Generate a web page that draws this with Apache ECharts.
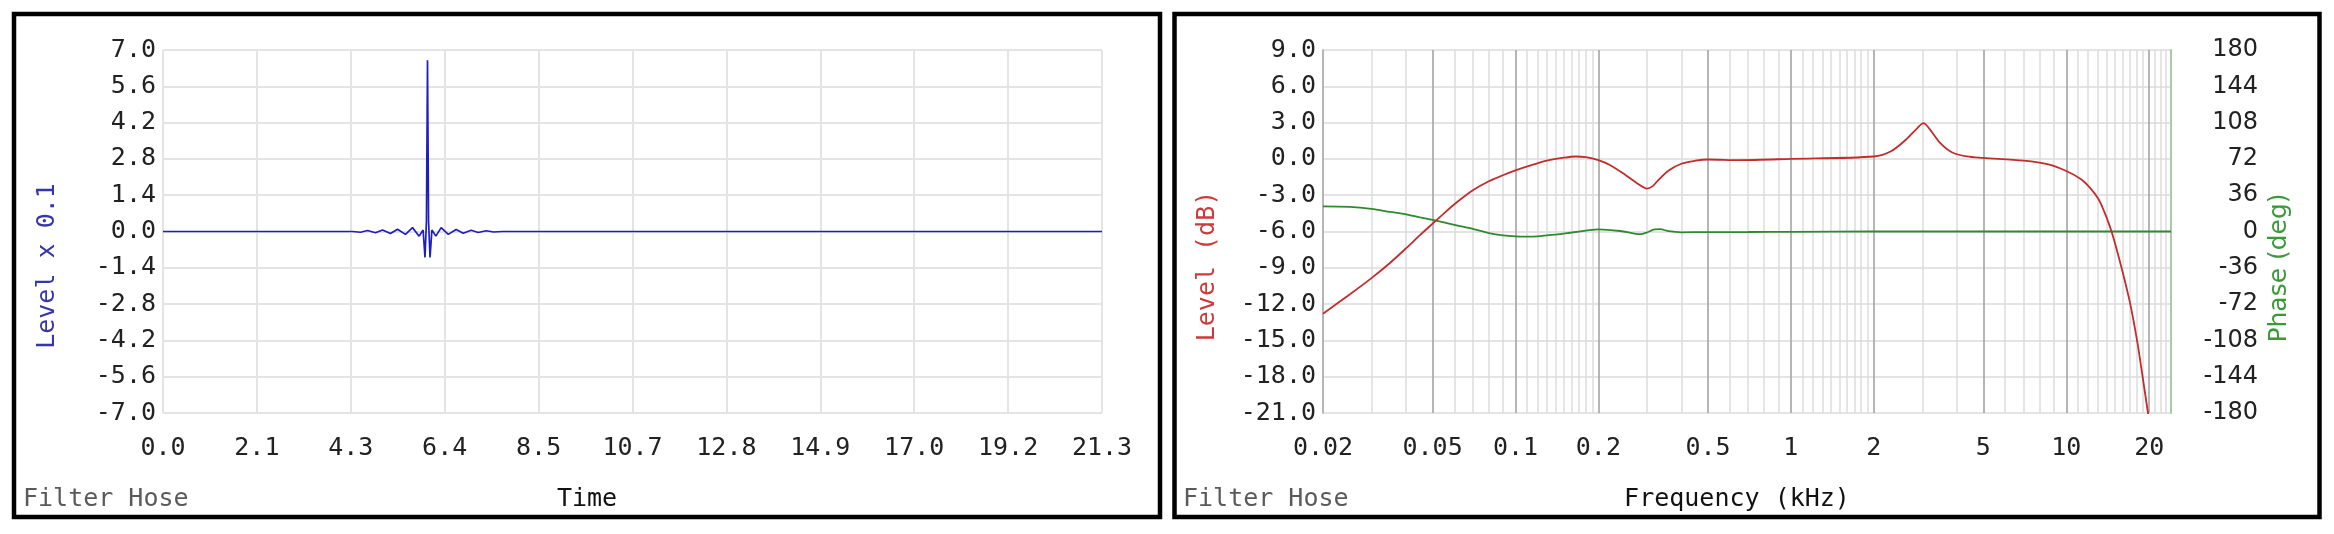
<!DOCTYPE html>
<html>
<head>
<meta charset="utf-8">
<script src="https://cdn.jsdelivr.net/npm/echarts@6/dist/echarts.min.js"></script>
<style>
html,body{margin:0;padding:0;background:#fff;}
#c{width:2334px;height:534px;}
</style>
</head>
<body>
<div id="c"></div>
<script>
// ---------- Left panel: impulse response ----------
const impulseTime  = [0.0, 4.3, 4.48, 4.64, 4.82, 4.98, 5.16, 5.32, 5.5, 5.66, 5.81, 5.9, 5.943, 5.976, 6.0, 6.024, 6.057, 6.1, 6.19, 6.31, 6.47, 6.65, 6.81, 6.99, 7.15, 7.33, 7.5, 7.7, 21.3];
const impulseLevel = [0.0, 0.0, -0.03, 0.04, -0.05, 0.06, -0.08, 0.09, -0.11, 0.15, -0.18, 0.06, -1.0, 0.4, 6.6, 0.4, -1.0, 0.06, -0.18, 0.15, -0.11, 0.08, -0.07, 0.05, -0.04, 0.03, -0.02, 0.0, 0.0];
const timeTickStep = 2.13;
const timeTickLabels = ['0.0','2.1','4.3','6.4','8.5','10.7','12.8','14.9','17.0','19.2','21.3'];

// ---------- Right panel: frequency response ----------
const levelFreqKHz = [0.02, 0.025, 0.03, 0.035, 0.04, 0.045, 0.05, 0.055, 0.06, 0.07,
  0.08, 0.09, 0.1, 0.115, 0.13, 0.15, 0.165, 0.18, 0.2, 0.22,
  0.25, 0.28, 0.3, 0.315, 0.33, 0.36, 0.4, 0.45, 0.5, 0.65,
  1.0, 2.0, 2.31, 2.62, 2.88, 3.03, 3.17, 3.49, 3.84, 4.35,
  5.0, 7.0, 8.6, 10.0, 11.35, 12.2, 13.07, 13.7, 14.4, 15.0,
  16.0, 17.0, 18.1, 18.9, 19.8, 20.1];
const levelDb = [-12.8, -11.2, -9.85, -8.6, -7.4, -6.3, -5.35, -4.5, -3.75, -2.6,
  -1.85, -1.35, -0.95, -0.5, -0.15, 0.1, 0.2, 0.15, -0.1, -0.5,
  -1.3, -2.1, -2.45, -2.25, -1.75, -0.95, -0.4, -0.15, -0.05, -0.1,
  0.0, 0.2, 0.63, 1.6, 2.55, 2.95, 2.55, 1.3, 0.55, 0.2,
  0.08, -0.15, -0.45, -1.0, -1.7, -2.4, -3.3, -4.3, -5.6, -6.9,
  -9.3, -11.8, -15.1, -17.9, -21.0, -22.0];
const phaseFreqKHz = [0.02, 0.025, 0.03, 0.035, 0.04, 0.045, 0.05, 0.055, 0.06, 0.07,
  0.08, 0.09, 0.1, 0.11, 0.12, 0.14, 0.16, 0.18, 0.2, 0.24,
  0.27, 0.285, 0.3, 0.32, 0.335, 0.36, 0.4, 0.5, 0.7, 1.0,
  2.0, 5.0, 10.0, 24.0];
const phaseDeg = [25, 24.5, 22.5, 19.5, 17, 14, 11.5, 9, 6.5, 2.5,
  -1.5, -3.8, -4.8, -5, -4.8, -3, -1, 0.8, 2.2, 0.5,
  -2, -2.7, -1, 2, 2.3, 0.3, -0.8, -0.6, -0.5, -0.3,
  0, 0, 0, 0];
const freqLabelValues = [0.02, 0.05, 0.1, 0.2, 0.5, 1, 2, 5, 10, 20];
const freqLabelTexts  = ['0.02','0.05','0.1','0.2','0.5','1','2','5','10','20'];
const freqMajorLines  = [0.05, 0.1, 0.2, 0.5, 1, 2, 5, 10, 20];
const freqMinorLines  = [0.03, 0.04, 0.06, 0.07, 0.08, 0.09,
  0.11, 0.12, 0.13, 0.14, 0.15, 0.16, 0.17, 0.18, 0.19,
  0.3, 0.4, 0.6, 0.7, 0.8, 0.9,
  1.1, 1.2, 1.3, 1.4, 1.5, 1.6, 1.7, 1.8, 1.9,
  3, 4, 6, 7, 8, 9,
  11, 12, 13, 14, 15, 16, 17, 18, 19,
  21, 22, 23];

const MONO = '"DejaVu Sans Mono", monospace';
const SANS = '"DejaVu Sans", sans-serif';
const FS = 25;

const chart = echarts.init(document.getElementById('c'), null, {renderer: 'canvas', width: 2334, height: 534});

function freqLabel(v) {
  let best = 0, bd = Infinity;
  freqLabelValues.forEach((f, i) => { const d = Math.abs(Math.log(f) - Math.log(v)); if (d < bd) { bd = d; best = i; } });
  return freqLabelTexts[best];
}

const tickText = {color: '#222', fontFamily: MONO, fontSize: FS};

const option = {
  animation: false,
  backgroundColor: '#ffffff',
  grid: [
    {left: 163, top: 50, width: 939, height: 363, containLabel: false, outerBoundsMode: 'none'},
    {left: 1323, top: 50, width: 848, height: 363, containLabel: false, outerBoundsMode: 'none'}
  ],
  xAxis: [
    {
      gridIndex: 0, type: 'value', min: 0, max: 21.3, interval: timeTickStep,
      axisLine: {show: false}, axisTick: {show: false},
      splitLine: {show: true, lineStyle: {color: '#e4e4e4', width: 2}},
      axisLabel: Object.assign({margin: 23, formatter: v => timeTickLabels[Math.round(v / timeTickStep)]}, tickText)
    },
    {
      gridIndex: 1, type: 'log', logBase: 10, min: 0.02, max: 24, position: 'bottom',
      axisLine: {show: false},
      axisTick: {show: false, customValues: freqMinorLines},
      axisLabel: {show: false},
      splitLine: {show: true, customValues: freqMinorLines, lineStyle: {color: '#dcdcdc', width: 1.5}}
    },
    {
      gridIndex: 1, type: 'log', logBase: 10, min: 0.02, max: 24, position: 'bottom',
      axisLine: {show: false},
      axisTick: {show: false, customValues: freqMajorLines},
      splitLine: {show: true, customValues: freqMajorLines, lineStyle: {color: '#a4a4a4', width: 1.6}},
      axisLabel: Object.assign({margin: 23, customValues: freqLabelValues, formatter: v => freqLabel(v)}, tickText)
    }
  ],
  yAxis: [
    {
      gridIndex: 0, type: 'value', min: -7, max: 7, interval: 1.4,
      axisLine: {show: false, onZero: false}, axisTick: {show: false},
      splitLine: {show: true, lineStyle: {color: '#e4e4e4', width: 2}},
      axisLabel: Object.assign({margin: 7, formatter: v => v.toFixed(1)}, tickText)
    },
    {
      gridIndex: 1, type: 'value', min: -21, max: 9, interval: 3,
      axisLine: {show: true, onZero: false, lineStyle: {color: '#a4a4a4', width: 1.6}}, axisTick: {show: false},
      splitLine: {show: true, lineStyle: {color: '#e4e4e4', width: 2}},
      axisLabel: Object.assign({margin: 7, formatter: v => v.toFixed(1)}, tickText)
    },
    {
      gridIndex: 1, type: 'value', position: 'right', min: -180, max: 180, interval: 36,
      axisLine: {show: true, onZero: false, lineStyle: {color: '#a9cba3', width: 2}}, axisTick: {show: false},
      splitLine: {show: false},
      axisLabel: {margin: 87, align: 'right', color: '#222', fontFamily: SANS, fontSize: 24, formatter: v => String(Math.round(v))}
    }
  ],
  series: [
    {
      name: 'Impulse', type: 'line', xAxisIndex: 0, yAxisIndex: 0,
      data: impulseTime.map((t, i) => [t, impulseLevel[i]]),
      showSymbol: false, symbol: 'none',
      lineStyle: {color: '#1e1ec0', width: 1.7}, itemStyle: {color: '#1e1ec0'}
    },
    {
      name: 'Phase', type: 'line', xAxisIndex: 2, yAxisIndex: 2,
      data: phaseFreqKHz.map((f, i) => [f, phaseDeg[i]]),
      smooth: 0.3, showSymbol: false, symbol: 'none',
      lineStyle: {color: '#2f8a2f', width: 1.8}, itemStyle: {color: '#2f8a2f'}
    },
    {
      name: 'Level', type: 'line', xAxisIndex: 2, yAxisIndex: 1,
      data: levelFreqKHz.map((f, i) => [f, levelDb[i]]),
      smooth: 0.3, showSymbol: false, symbol: 'none',
      lineStyle: {color: '#c02d2d', width: 1.8}, itemStyle: {color: '#c02d2d'}
    }
  ],
  graphic: [
    {type: 'rect', z: 100, shape: {x: 14, y: 14, width: 1146, height: 503}, style: {fill: 'none', stroke: '#000', lineWidth: 4.5}},
    {type: 'rect', z: 100, shape: {x: 1174.5, y: 14, width: 1145, height: 503}, style: {fill: 'none', stroke: '#000', lineWidth: 4.5}},
    {type: 'text', z: 100, x: 23, y: 499, style: {text: 'Filter Hose', font: FS + 'px ' + MONO, fill: '#5a5a5a', textAlign: 'left', textVerticalAlign: 'middle'}},
    {type: 'text', z: 100, x: 1183, y: 499, style: {text: 'Filter Hose', font: FS + 'px ' + MONO, fill: '#5a5a5a', textAlign: 'left', textVerticalAlign: 'middle'}},
    {type: 'text', z: 100, x: 587, y: 499, style: {text: 'Time', font: FS + 'px ' + MONO, fill: '#111', textAlign: 'center', textVerticalAlign: 'middle'}},
    {type: 'text', z: 100, x: 1737, y: 499, style: {text: 'Frequency (kHz)', font: FS + 'px ' + MONO, fill: '#111', textAlign: 'center', textVerticalAlign: 'middle'}},
    {type: 'text', z: 100, x: 47, y: 266, rotation: Math.PI / 2, style: {text: 'Level x 0.1', font: FS + 'px ' + MONO, fill: '#3636a8', textAlign: 'center', textVerticalAlign: 'middle'}},
    {type: 'text', z: 100, x: 1207, y: 266, rotation: Math.PI / 2, style: {text: 'Level (dB)', font: FS + 'px ' + MONO, fill: '#cc3a3a', textAlign: 'center', textVerticalAlign: 'middle'}},
    {type: 'text', z: 100, x: 2279, y: 268, rotation: Math.PI / 2, style: {text: 'Phase (deg)', font: '25px ' + SANS, fill: '#3a9a3a', textAlign: 'center', textVerticalAlign: 'middle'}}
  ]
};
chart.setOption(option);
</script>
</body>
</html>
